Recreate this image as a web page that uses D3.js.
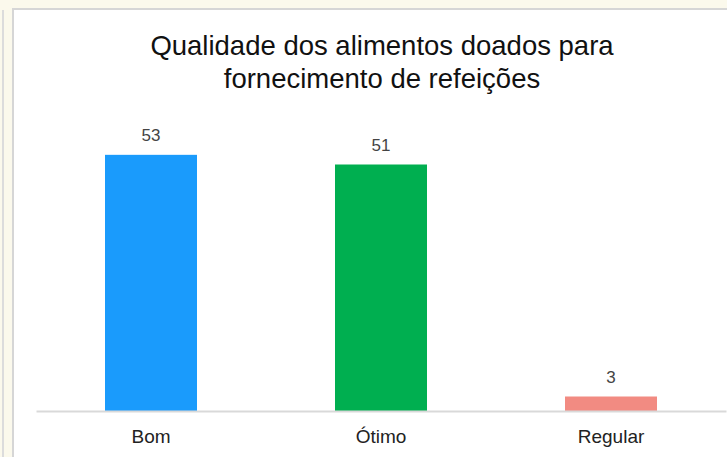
<!DOCTYPE html>
<html>
  <head>
    <meta charset="utf-8">
    <title>Qualidade dos alimentos doados</title>
    <script src="https://d3js.org/d3.v7.min.js"></script>
  </head>
  <style>
    body { margin: 0; background: #fbf9ec; }
    svg { display: block; font-family: "Liberation Sans", Arial, sans-serif; }
  </style>
  <body>
    <script type="text/javascript">
        var width = 727;
        var height = 457;

        const categories = ['Bom', 'Ótimo', 'Regular'];
        const values = [53, 51, 3];
        const colors = ['#1a9bfc', '#00af50', '#f28b82'];
        const titleLines = ['Qualidade dos alimentos doados para', 'fornecimento de refeições'];

        const svg = d3.select('body').append('svg').attr('width', width).attr('height', height);

        // slide frame behind the chart
        svg.append('rect').attr('width', width).attr('height', height).attr('fill', '#fbf9ec');
        svg.append('line').attr('x1', 3).attr('x2', 3).attr('y1', 10).attr('y2', height)
          .attr('stroke', '#dcdcdc').attr('stroke-width', 2);
        svg.append('rect').attr('x', 13).attr('y', 9).attr('width', width).attr('height', height)
          .attr('fill', '#fff').attr('stroke', '#d6d6d6').attr('stroke-width', 2);

        const x = d3.scaleBand().domain(categories).range([36, 726]).paddingInner(0.6).paddingOuter(0.3);
        const y = d3.scaleLinear().domain([0, 60]).range([411, 121]);

        svg.append('g').selectAll('text').data(titleLines).enter().append('text')
          .attr('x', 382).attr('y', (d, i) => 55 + i * 33)
          .attr('text-anchor', 'middle').attr('font-size', 27.5).attr('fill', '#111')
          .text(d => d);

        svg.append('g').selectAll('rect').data(values).enter().append('rect')
          .attr('x', (d, i) => x(categories[i]))
          .attr('y', d => y(d))
          .attr('width', x.bandwidth())
          .attr('height', d => y(0) - y(d))
          .attr('fill', (d, i) => colors[i]);

        svg.append('g').selectAll('text').data(values).enter().append('text')
          .attr('x', (d, i) => x(categories[i]) + x.bandwidth() / 2)
          .attr('y', d => y(d) - 14)
          .attr('text-anchor', 'middle').attr('font-size', 17).attr('fill', '#444')
          .text(d => d);

        const axis = svg.append('g').attr('transform', 'translate(0,' + y(0) + ')')
          .call(d3.axisBottom(x).tickSize(0).tickPadding(19));
        axis.select('.domain').attr('stroke', '#d9d9d9').attr('stroke-width', 2);
        axis.selectAll('text').attr('font-size', 19).attr('fill', '#222')
          .attr('font-family', '"Liberation Sans", Arial, sans-serif');
      </script>
  </body>
</html>
